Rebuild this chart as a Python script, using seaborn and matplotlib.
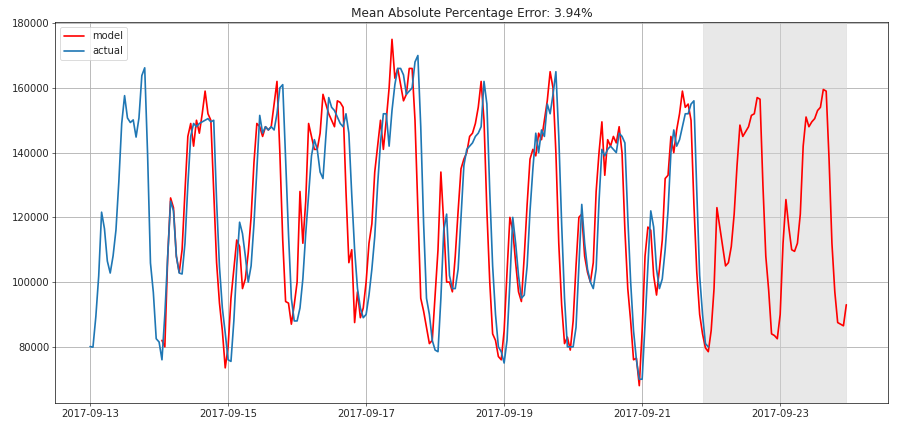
import numpy as np
import pandas as pd
import matplotlib
matplotlib.use("Agg")
import matplotlib.pyplot as plt
import matplotlib.dates as mdates
import seaborn as sns

# valores horarios (miles)
actual_k = [
    # 09-13
    80.1, 79.9, 89.3, 101.9, 121.6, 116.5, 106.5, 102.8, 108.1, 116.1, 131.0, 149.0,
    157.6, 150.7, 149.3, 150.1, 144.8, 150.7, 163.8, 166.2, 139.5, 105.9, 96.8, 82.5,
    # 09-14
    81.5, 76.0, 90.0, 108.0, 125.0, 122.0, 108.0, 102.8, 102.5, 112.0, 130.0, 145.0,
    149.0, 148.0, 149.0, 149.5, 150.0, 150.5, 149.5, 150.0, 125.0, 104.7, 92.0, 84.3,
    # 09-15
    76.0, 75.5, 88.0, 105.0, 118.5, 115.0, 108.0, 100.0, 105.0, 118.0, 135.0, 151.5,
    146.0, 148.0, 147.0, 148.0, 147.0, 152.0, 160.0, 161.0, 138.0, 115.0, 95.0, 88.0,
    # 09-16
    88.0, 92.0, 101.0, 115.0, 127.0, 139.0, 144.0, 141.0, 134.0, 132.0, 145.0, 157.0,
    154.0, 153.0, 151.0, 149.0, 148.0, 152.0, 146.0, 127.0, 110.0, 98.0, 92.0, 89.0,
    # 09-17
    90.0, 96.0, 104.0, 114.0, 130.0, 143.0, 152.0, 152.0, 142.0, 153.0, 161.0, 166.0,
    166.0, 164.0, 158.0, 159.0, 160.0, 168.0, 170.0, 148.0, 118.0, 95.0, 90.0, 82.0,
    # 09-18
    79.0, 78.5, 95.0, 116.0, 121.0, 102.0, 98.0, 98.0, 104.0, 120.0, 136.0, 141.0,
    142.0, 143.0, 145.0, 146.0, 148.0, 162.0, 155.0, 128.0, 105.0, 90.0, 80.0, 78.5,
    # 09-19
    75.0, 82.0, 100.0, 120.0, 112.0, 102.0, 95.0, 96.0, 105.0, 122.0, 135.0, 146.0,
    140.0, 147.0, 145.0, 155.0, 152.0, 158.0, 165.0, 145.0, 118.0, 95.0, 80.0, 80.0,
    # 09-20
    80.0, 86.0, 105.0, 124.0, 112.0, 104.0, 100.0, 98.0, 104.0, 125.0, 141.0, 139.0,
    141.0, 142.0, 141.0, 140.0, 146.0, 145.0, 143.0, 120.0, 100.0, 85.0, 76.0, 70.0,
    # 09-21
    70.0, 87.0, 105.0, 122.0, 117.0, 104.0, 98.0, 101.0, 110.0, 122.0, 140.0, 147.0,
    142.0, 144.0, 148.0, 152.0, 152.0, 155.0, 156.0, 128.0, 102.0, 90.0, 81.0, 80.0,
]

model_k = [
    # 09-14 (desde 01:00)
    82.0, 80.0, 108.0, 126.0, 123.0, 108.0, 103.0, 110.0, 128.0, 145.0,
    149.0, 142.0, 150.0, 146.0, 152.0, 159.0, 152.0, 150.0, 128.0, 106.0, 93.5, 85.0,
    # 09-15
    73.5, 80.0, 95.0, 104.0, 113.0, 111.0, 98.0, 101.0, 109.0, 120.0, 137.0, 149.0,
    148.0, 145.0, 148.0, 147.0, 148.0, 155.0, 162.0, 140.0, 113.0, 94.0, 93.5, 87.0,
    # 09-16
    93.0, 100.0, 128.0, 112.0, 125.0, 149.0, 145.0, 141.0, 141.0, 146.0, 158.0, 155.0,
    152.0, 150.0, 148.0, 156.0, 155.5, 154.0, 128.0, 106.0, 110.0, 87.5, 97.0, 89.0,
    # 09-17
    92.0, 100.0, 112.0, 118.0, 134.0, 142.0, 150.0, 141.0, 150.0, 160.0, 175.0, 163.0,
    166.0, 161.0, 156.0, 158.0, 166.0, 166.0, 150.0, 122.0, 95.0, 91.0, 86.0, 81.0,
    # 09-18
    82.0, 96.0, 110.0, 134.0, 118.0, 100.0, 100.0, 97.0, 108.0, 122.0, 135.0, 138.0,
    140.0, 145.0, 146.0, 149.0, 154.0, 162.0, 150.0, 122.0, 100.0, 84.0, 82.0, 77.0,
    # 09-19
    76.0, 85.0, 103.0, 120.0, 116.0, 106.0, 97.0, 94.0, 108.0, 124.0, 138.0, 141.0,
    139.0, 146.0, 144.0, 150.0, 156.0, 165.0, 160.0, 140.0, 112.0, 93.0, 81.0, 83.0,
    # 09-20
    79.0, 88.0, 105.0, 120.0, 121.0, 108.0, 103.0, 100.0, 106.0, 128.0, 140.0, 149.5,
    133.0, 144.0, 142.0, 145.0, 143.0, 148.0, 140.0, 116.0, 98.0, 88.0, 76.0, 76.5,
    # 09-21
    68.0, 85.0, 108.0, 117.0, 116.0, 102.0, 96.0, 104.0, 113.0, 132.0, 133.0, 145.0,
    140.0, 147.0, 152.0, 159.0, 154.0, 155.0, 150.0, 124.0, 103.0, 90.0, 84.0, 79.7,
    # pronostico 09-22
    78.5, 85.0, 98.0, 123.0, 117.0, 111.0, 105.0, 106.0, 111.0, 121.0, 136.0, 148.5,
    145.0, 146.5, 148.0, 151.5, 152.0, 157.0, 156.5, 130.0, 108.0, 97.5, 84.0, 83.5,
    # pronostico 09-23
    82.5, 90.0, 112.0, 125.5, 117.0, 110.0, 109.5, 112.0, 121.0, 142.0, 151.0, 148.0,
    149.5, 150.5, 153.0, 154.0, 159.5, 159.0, 138.0, 112.0, 97.0, 87.5, 87.0, 86.5,
    # 09-24
    93.0,
]

dias_ticks = [13, 15, 17, 19, 21, 23]

inicio = pd.Timestamp("2017-09-13 00:00")
fechas_actual = pd.date_range(inicio, periods=len(actual_k), freq="h")
fechas_model = pd.date_range(inicio + pd.Timedelta(hours=25), periods=len(model_k), freq="h")

df_actual = pd.DataFrame({"fecha": fechas_actual, "valor": np.array(actual_k) * 1000})
df_model = pd.DataFrame({"fecha": fechas_model, "valor": np.array(model_k) * 1000})

sns.set_style("ticks")
plt.rcParams["font.family"] = ["DejaVu Sans"]

fig, ax = plt.subplots(figsize=(899 / 60, 427 / 60), dpi=60)
fig.subplots_adjust(left=55 / 899, right=888 / 899, top=1 - 22 / 427, bottom=1 - 403 / 427)

sns.lineplot(data=df_model, x="fecha", y="valor", color="red", linewidth=2, label="model", ax=ax)
sns.lineplot(data=df_actual, x="fecha", y="valor", color="#1f77b4", linewidth=2, label="actual", ax=ax)

ax.axvspan(fechas_actual[-3], fechas_model[-1], alpha=0.5, color="lightgrey")

ax.set_xlim(inicio - pd.Timedelta(hours=12.2), inicio + pd.Timedelta(hours=277.5))
ax.set_title("Mean Absolute Percentage Error: 3.94%", fontsize=14.5)
ax.set_xlabel("")
ax.set_ylabel("")
ax.xaxis.set_major_locator(mdates.DayLocator(bymonthday=dias_ticks))
ax.xaxis.set_major_formatter(mdates.DateFormatter("%Y-%m-%d"))
ax.tick_params(labelsize=12)
ax.grid(True, color="#b0b0b0", linewidth=1)
for s in ax.spines.values():
    s.set_color("black")
ax.legend(loc="upper left", fontsize=12)

plt.savefig("out.png", dpi=60)
plt.close()
